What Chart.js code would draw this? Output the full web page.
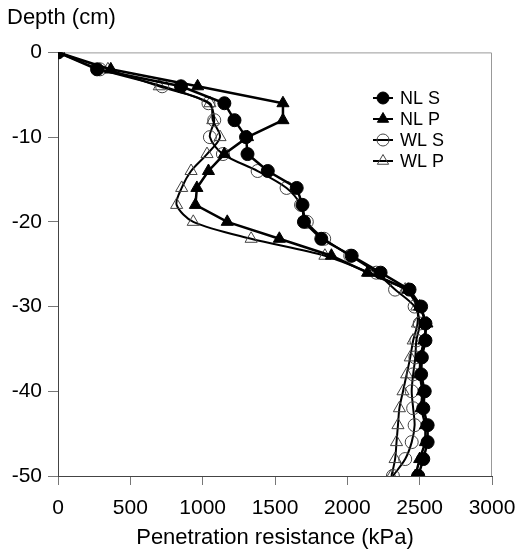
<!DOCTYPE html>
<html>
<head>
<meta charset="utf-8">
<script src="https://cdn.jsdelivr.net/npm/chart.js@4"></script>
<style>
  html, body { margin: 0; padding: 0; background: #fff; }
  #wrap { width: 521px; height: 553px; }
</style>
</head>
<body>
<div id="wrap"><canvas id="depthChart"></canvas></div>
<script>
// Depth (cm) of each reading
const depths = [0, -2, -4, -6, -8, -10, -12, -14, -16, -18, -20, -22, -24, -26,
  -28, -30, -32, -34, -36, -38, -40, -42, -44, -46, -48, -50];

// Penetration resistance (kPa) per treatment
const nlS = [0, 270, 850, 1150, 1220, 1300, 1310, 1450, 1650, 1690, 1700, 1820, 2030, 2230,
  2430, 2510, 2540, 2540, 2515, 2510, 2535, 2525, 2555, 2555, 2525, 2490];
const nlP = [0, 365, 965, 1555, 1555, 1310, 1150, 1040, 960, 950, 1170, 1530, 1890, 2140,
  2420, 2500, 2550, 2530, 2505, 2500, 2520, 2510, 2540, 2540, 2500, 2470];
const wlS = [0, 290, 720, 1040, 1080, 1050, 1140, 1380, 1580, 1680, 1720, 1840, 2020, 2200,
  2330, 2465, 2500, 2477, 2470, 2455, 2445, 2455, 2465, 2445, 2400, 2315];
const wlP = [0, 345, 700, 1050, 1070, 1120, 1030, 920, 855, 820, 935, 1335, 1845, 2150,
  2400, 2480, 2485, 2455, 2435, 2410, 2385, 2360, 2350, 2340, 2330, 2305];

const seriesNames = ['NL S', 'NL P', 'WL S', 'WL P'];

function toPoints(values) {
  return values.map((v, i) => ({ x: v, y: depths[i] }));
}

document.addEventListener('DOMContentLoaded', function() {
  const ctx = document.getElementById('depthChart').getContext('2d');
  const FONT = '"Liberation Sans", Arial, sans-serif';

  const data = {
    datasets: [{
      label: seriesNames[0],
      data: toPoints(nlS),
      borderColor: '#000',
      borderWidth: 2.5,
      backgroundColor: '#000',
      pointStyle: 'circle',
      pointRadius: 6.5,
      pointBorderWidth: 1,
      pointBorderColor: '#000',
      pointBackgroundColor: '#000',
      tension: 0
    }, {
      label: seriesNames[1],
      data: toPoints(nlP),
      borderColor: '#000',
      borderWidth: 2.5,
      backgroundColor: '#000',
      pointStyle: 'triangle',
      pointRadius: 7,
      pointBorderWidth: 1,
      pointBorderColor: '#000',
      pointBackgroundColor: '#000',
      tension: 0
    }, {
      label: seriesNames[2],
      data: toPoints(wlS),
      borderColor: '#000',
      borderWidth: 2,
      backgroundColor: 'rgba(0,0,0,0)',
      pointStyle: 'circle',
      pointRadius: 6.5,
      pointBorderWidth: 1,
      pointBorderColor: '#444',
      pointBackgroundColor: 'rgba(0,0,0,0)',
      tension: 0.3
    }, {
      label: seriesNames[3],
      data: toPoints(wlP),
      borderColor: '#000',
      borderWidth: 2,
      backgroundColor: 'rgba(0,0,0,0)',
      pointStyle: 'triangle',
      pointRadius: 7,
      pointBorderWidth: 1,
      pointBorderColor: '#444',
      pointBackgroundColor: 'rgba(0,0,0,0)',
      tension: 0.3
    }]
  };

  // box around the plot (top and right edges)
  const frame = {
    id: 'frame',
    beforeDatasetsDraw(chart) {
      const a = chart.chartArea;
      const c = chart.ctx;
      c.save();
      c.strokeStyle = '#999';
      c.lineWidth = 1;
      c.beginPath();
      c.moveTo(a.left, a.top + 0.5);
      c.lineTo(a.right - 0.5, a.top + 0.5);
      c.lineTo(a.right - 0.5, a.bottom);
      c.stroke();
      c.restore();
    }
  };

  // legend inside the plot, line through marker
  const innerLegend = {
    id: 'innerLegend',
    afterDraw(chart) {
      const c = chart.ctx;
      const x0 = 383, y0 = 98, gap = 21;
      c.save();
      chart.data.datasets.forEach((ds, i) => {
        const y = y0 + i * gap;
        c.strokeStyle = '#000';
        c.lineWidth = 2;
        c.beginPath();
        c.moveTo(x0 - 10, y);
        c.lineTo(x0 + 10, y);
        c.stroke();
        c.fillStyle = ds.pointBackgroundColor;
        c.strokeStyle = ds.pointBorderColor;
        c.lineWidth = ds.pointBorderWidth;
        Chart.helpers.drawPoint(c, {
          pointStyle: ds.pointStyle,
          radius: ds.pointRadius - 0.5,
          rotation: 0,
          borderWidth: ds.pointBorderWidth
        }, x0, y);
        c.fillStyle = '#000';
        c.font = '18px ' + FONT;
        c.textAlign = 'left';
        c.textBaseline = 'middle';
        c.fillText(ds.label, x0 + 17, y + 1);
      });
      c.restore();
    }
  };

  const config = {
    type: 'scatter',
    data: data,
    options: {
      responsive: true,
      maintainAspectRatio: false,
      animation: false,
      layout: {
        padding: { left: 7, right: 29, top: 0, bottom: 0 }
      },
      plugins: {
        legend: { display: false },
        tooltip: { enabled: false },
        title: {
          display: true,
          text: 'Depth (cm)',
          align: 'start',
          color: '#000',
          font: { family: FONT, size: 22, weight: 'normal' },
          padding: { top: 5, bottom: 21 }
        }
      },
      elements: {
        line: { fill: false }
      },
      datasets: {
        scatter: { showLine: true }
      },
      scales: {
        x: {
          type: 'linear',
          min: 0,
          max: 3000,
          border: { color: '#444', width: 1 },
          grid: { drawOnChartArea: false, drawTicks: true, tickLength: 9, tickColor: '#777' },
          ticks: {
            stepSize: 500,
            padding: 11,
            color: '#000',
            font: { family: FONT, size: 21 },
            callback: v => String(v)
          },
          title: {
            display: true,
            text: 'Penetration resistance (kPa)',
            color: '#000',
            font: { family: FONT, size: 22 },
            padding: { top: 0, bottom: 2 }
          },
          afterFit(scale) {
            scale.height = 77;
            scale.paddingLeft = 0;
            scale.paddingRight = 0;
          }
        },
        y: {
          type: 'linear',
          min: -50,
          max: 0,
          border: { color: '#444', width: 1 },
          grid: { drawOnChartArea: false, drawTicks: true, tickLength: 10, tickColor: '#777' },
          ticks: {
            stepSize: 10,
            padding: 6,
            color: '#000',
            font: { family: FONT, size: 21 },
            callback: v => String(v)
          },
          afterFit(scale) { scale.width = 51; }
        }
      }
    },
    plugins: [frame, innerLegend]
  };

  new Chart(ctx, config);
});
</script>
</body>
</html>
